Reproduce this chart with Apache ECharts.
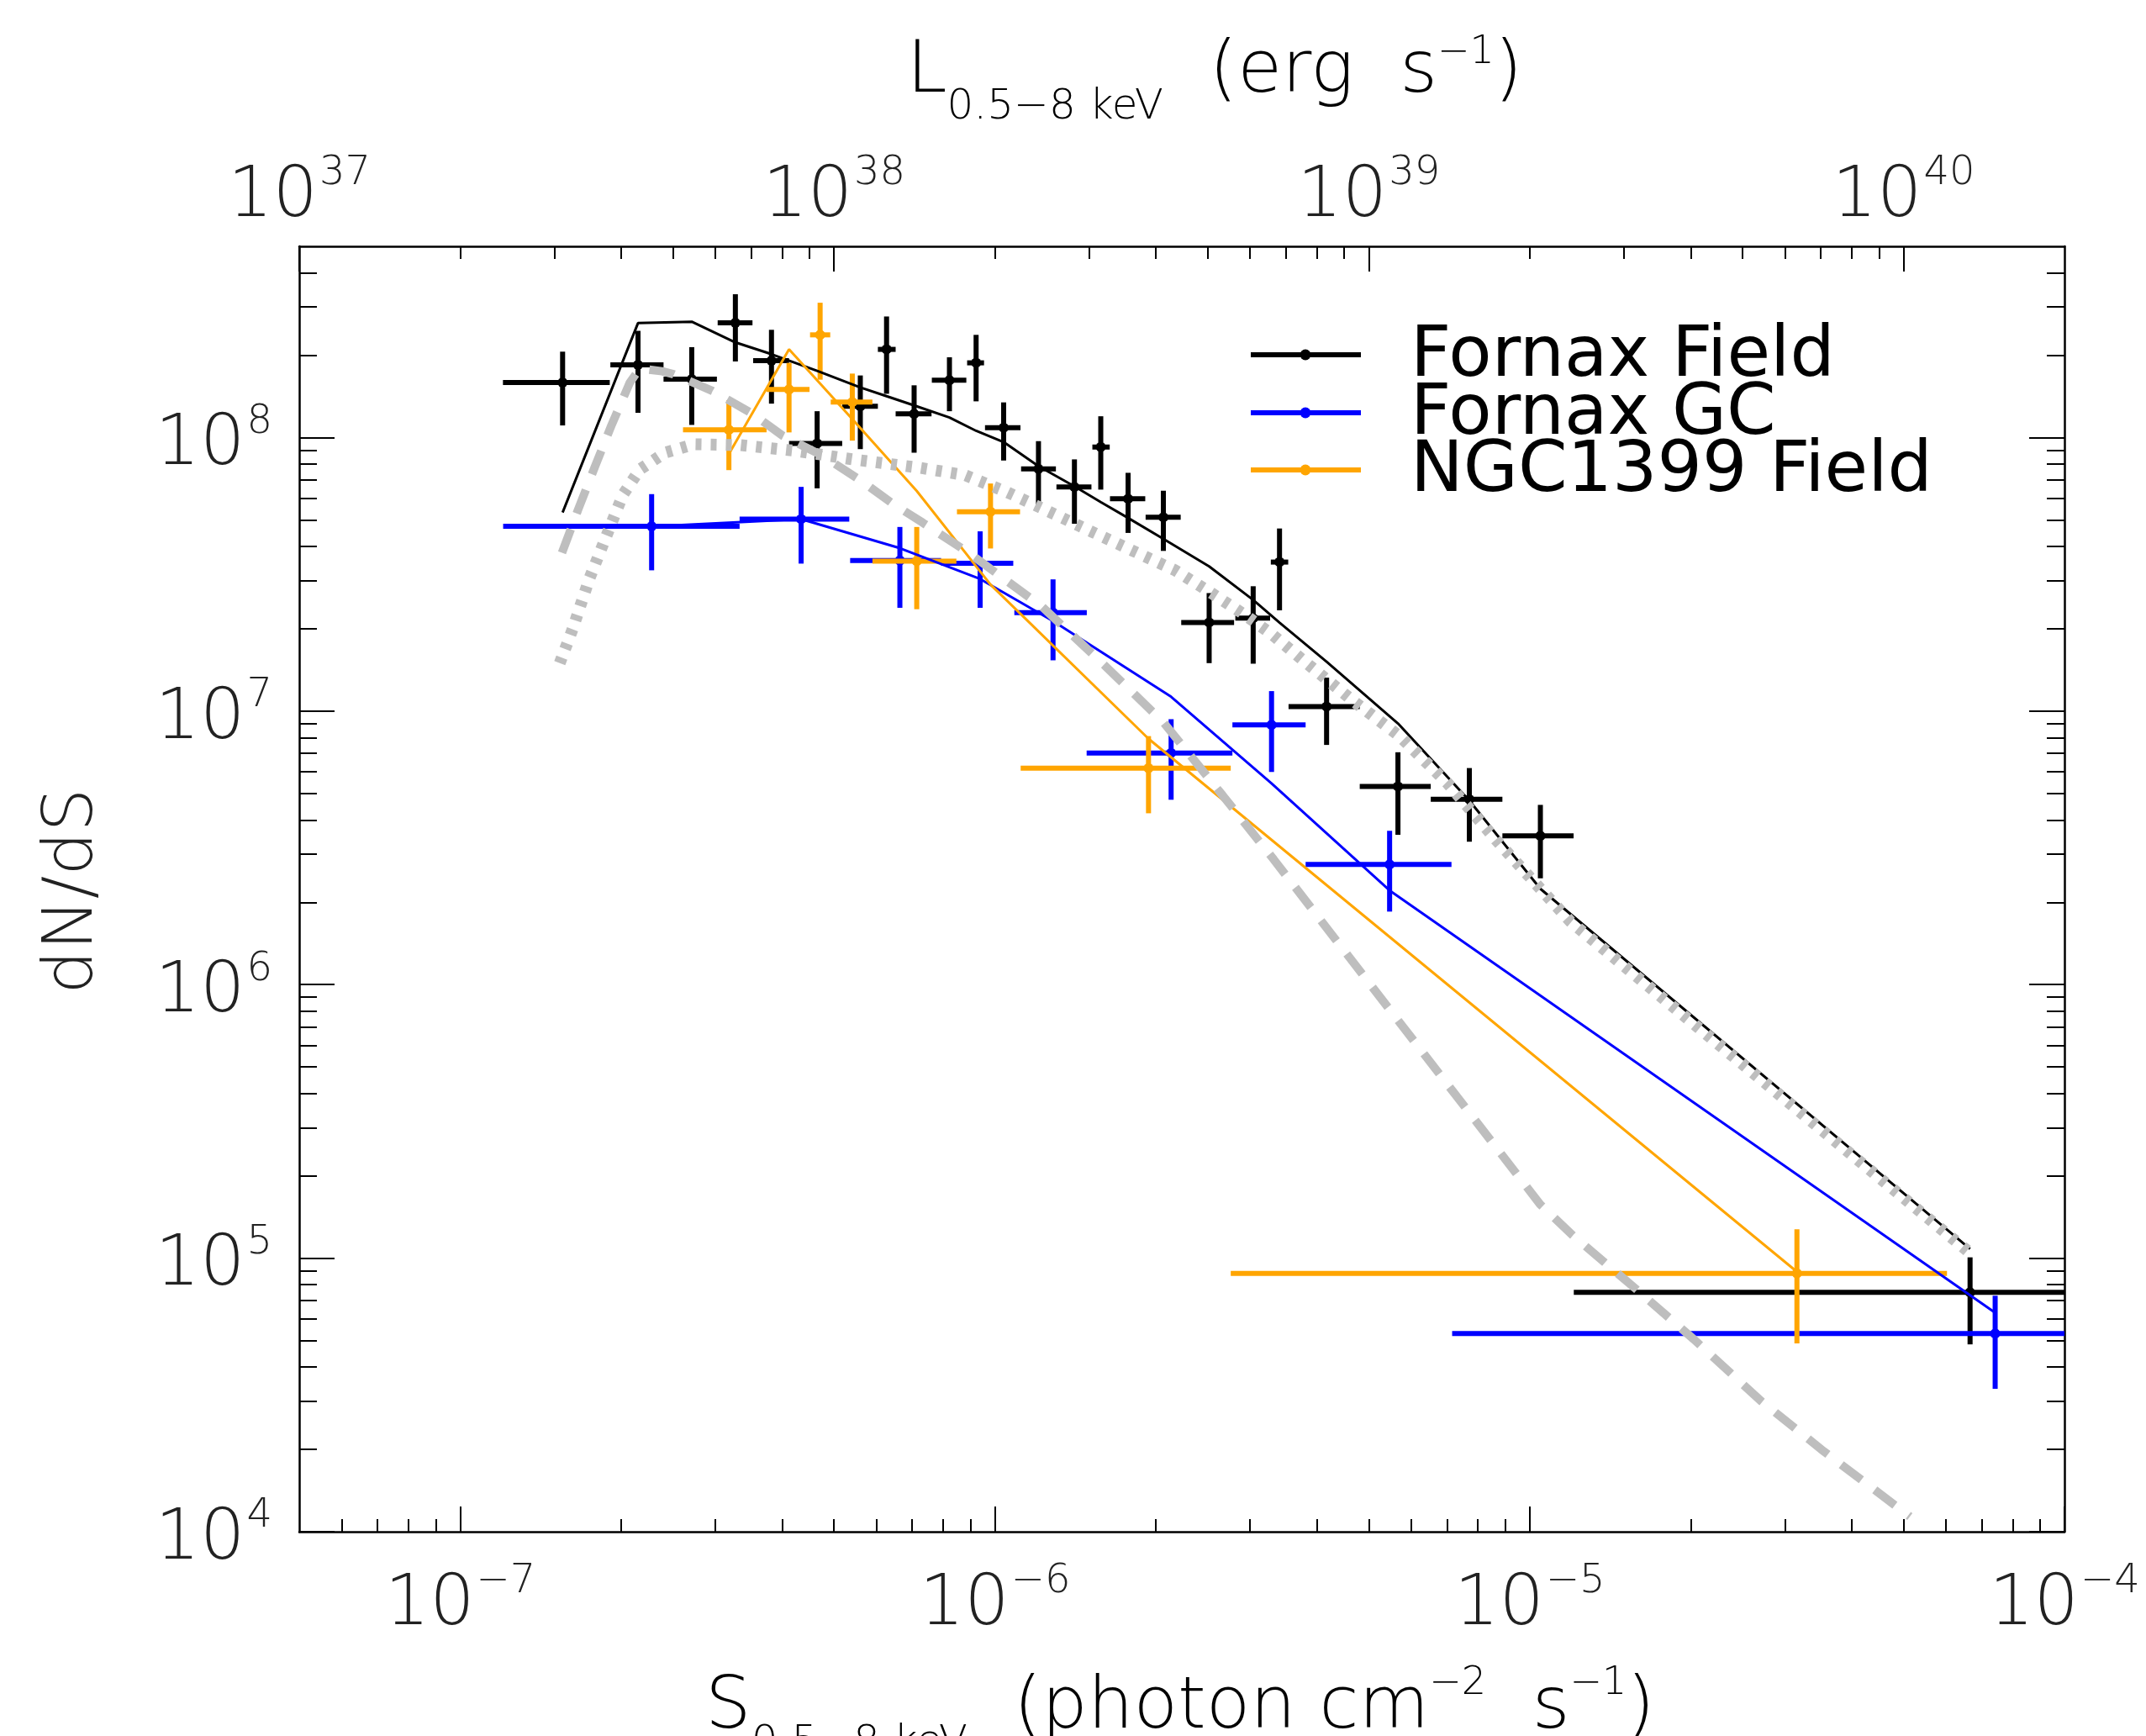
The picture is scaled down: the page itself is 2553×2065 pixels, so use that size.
<!DOCTYPE html>
<html>
<head>
<meta charset="utf-8">
<script src="https://cdn.jsdelivr.net/npm/echarts@6/dist/echarts.min.js"></script>
<style>
  html, body { margin: 0; padding: 0; background: #ffffff; }
  #chart { width: 2553px; height: 2065px; }
</style>
</head>
<body>
<div id="chart"></div>
<script>
// ---------------------------------------------------------------------------
// Differential source counts dN/dS of X-ray point sources in Fornax
// (field sources, globular-cluster sources, NGC 1399 field) with model curves.
// ---------------------------------------------------------------------------

// Fornax Field: flux, flux bin edges, dN/dS, 1-sigma range, model prediction
const fieldS    = [1.554e-7, 2.15e-7, 2.71e-7, 3.27e-7, 3.82e-7, 4.65e-7, 5.60e-7, 6.27e-7, 7.06e-7, 8.22e-7, 9.22e-7, 1.038e-6, 1.206e-6, 1.408e-6, 1.577e-6, 1.774e-6, 2.065e-6, 2.515e-6, 3.04e-6, 3.405e-6, 4.17e-6, 5.67e-6, 7.71e-6, 1.047e-5, 6.66e-5];
const fieldSLo  = [1.202e-7, 1.909e-7, 2.40e-7, 3.03e-7, 3.53e-7, 4.12e-7, 5.18e-7, 6.04e-7, 6.52e-7, 7.62e-7, 8.87e-7, 9.58e-7, 1.119e-6, 1.303e-6, 1.521e-6, 1.641e-6, 1.913e-6, 2.23e-6, 2.815e-6, 3.28e-6, 3.54e-6, 4.81e-6, 6.53e-6, 8.89e-6, 1.209e-5];
const fieldSHi  = [1.904e-7, 2.40e-7, 3.02e-7, 3.52e-7, 4.12e-7, 5.18e-7, 6.04e-7, 6.52e-7, 7.61e-7, 8.84e-7, 9.54e-7, 1.116e-6, 1.30e-6, 1.515e-6, 1.639e-6, 1.91e-6, 2.225e-6, 2.80e-6, 3.27e-6, 3.535e-6, 4.81e-6, 6.53e-6, 8.89e-6, 1.208e-5, 1.2e-4];
const fieldN    = [1.588e8, 1.843e8, 1.634e8, 2.627e8, 1.91e8, 9.52e7, 1.30e8, 2.10e8, 1.22e8, 1.62e8, 1.875e8, 1.087e8, 7.68e7, 6.60e7, 9.23e7, 5.97e7, 5.11e7, 2.109e7, 2.185e7, 3.505e7, 1.038e7, 5.30e6, 4.76e6, 3.50e6, 7.50e4];
const fieldNLo  = [1.107e8, 1.231e8, 1.112e8, 1.897e8, 1.33e8, 6.52e7, 9.07e7, 1.445e8, 8.80e7, 1.248e8, 1.356e8, 8.24e7, 5.62e7, 4.84e7, 6.45e7, 4.48e7, 3.85e7, 1.497e7, 1.49e7, 2.335e7, 7.52e6, 3.53e6, 3.33e6, 2.447e6, 4.84e4];
const fieldNHi  = [2.06e8, 2.455e8, 2.14e8, 3.34e8, 2.476e8, 1.248e8, 1.686e8, 2.77e8, 1.552e8, 1.965e8, 2.373e8, 1.344e8, 9.70e7, 8.32e7, 1.196e8, 7.43e7, 6.39e7, 2.70e7, 2.86e7, 4.65e7, 1.325e7, 7.07e6, 6.19e6, 4.54e6, 1.007e5];
const fieldModel = [5.32e7, 2.62e8, 2.65e8, 2.227e8, 2.017e8, 1.752e8, 1.525e8, 1.416e8, 1.31e8, 1.183e8, 1.058e8, 9.63e7, 7.86e7, 6.63e7, 5.81e7, 5.08e7, 4.26e7, 3.38e7, 2.548e7, 2.106e7, 1.516e7, 9.01e6, 4.71e6, 2.24e6, 1.081e5];

// Fornax GC
const gcS     = [2.28e-7, 4.34e-7, 6.64e-7, 9.38e-7, 1.284e-6, 2.135e-6, 3.29e-6, 5.47e-6, 7.42e-5];
const gcSLo   = [1.203e-7, 3.33e-7, 5.36e-7, 7.93e-7, 1.087e-6, 1.484e-6, 2.78e-6, 3.81e-6, 7.16e-6];
const gcSHi   = [3.33e-7, 5.34e-7, 7.93e-7, 1.082e-6, 1.485e-6, 2.78e-6, 3.81e-6, 7.14e-6, 1.2e-4];
const gcN     = [4.74e7, 5.03e7, 3.55e7, 3.47e7, 2.29e7, 7.03e6, 8.91e6, 2.75e6, 5.30e4];
const gcNLo   = [3.27e7, 3.46e7, 2.385e7, 2.385e7, 1.533e7, 4.74e6, 5.99e6, 1.849e6, 3.33e4];
const gcNHi   = [6.21e7, 6.60e7, 4.71e7, 4.54e7, 3.03e7, 9.34e6, 1.183e7, 3.65e6, 7.29e4];
const gcModel = [4.73e7, 5.03e7, 3.94e7, 3.04e7, 2.134e7, 1.128e7, 5.44e6, 2.21e6, 6.32e4];

// NGC1399 Field
const ngcS     = [3.18e-7, 4.12e-7, 4.71e-7, 5.41e-7, 7.14e-7, 9.81e-7, 1.937e-6, 3.16e-5];
const ngcSLo   = [2.61e-7, 3.74e-7, 4.51e-7, 4.93e-7, 5.90e-7, 8.49e-7, 1.117e-6, 2.76e-6];
const ngcSHi   = [3.74e-7, 4.50e-7, 4.92e-7, 5.90e-7, 8.47e-7, 1.114e-6, 2.76e-6, 6.03e-5];
const ngcN     = [1.068e8, 1.498e8, 2.373e8, 1.347e8, 3.53e7, 5.35e7, 6.18e6, 8.80e4];
const ngcNLo   = [7.60e7, 1.044e8, 1.627e8, 9.74e7, 2.357e7, 3.93e7, 4.23e6, 4.88e4];
const ngcNHi   = [1.369e8, 1.875e8, 3.11e8, 1.713e8, 4.71e7, 6.79e7, 8.10e6, 1.275e5];
const ngcModel = [8.70e7, 2.10e8, 1.576e8, 1.167e8, 6.38e7, 2.90e7, 7.92e6, 8.92e4];

// Reference model curves (grey)
const dashedS = [1.55e-7, 1.66e-7, 1.786e-7, 1.92e-7, 2.076e-7, 2.166e-7, 2.386e-7, 2.504e-7, 2.965e-7, 3.51e-7, 4.01e-7, 4.75e-7, 5.62e-7, 6.42e-7, 7.33e-7, 8.98e-7, 1.227e-6, 1.607e-6, 2.063e-6, 2.663e-6, 3.32e-6, 4.04e-6, 1.046e-5, 1.204e-5, 1.578e-5, 2.025e-5, 2.71e-5, 3.55e-5, 5.14e-5];
const dashedN = [3.79e7, 5.43e7, 7.82e7, 1.114e8, 1.588e8, 1.788e8, 1.747e8, 1.705e8, 1.48e8, 1.225e8, 1.015e8, 8.60e7, 6.95e7, 5.75e7, 4.88e7, 3.76e7, 2.40e7, 1.463e7, 9.12e6, 4.93e6, 2.87e6, 1.747e6, 1.573e5, 1.211e5, 7.73e4, 5.06e4, 3.0e4, 1.965e4, 1.136e4];
const dottedS = [1.535e-7, 1.622e-7, 1.743e-7, 1.874e-7, 2.015e-7, 2.166e-7, 2.415e-7, 2.74e-7, 3.345e-7, 4.26e-7, 5.42e-7, 7.24e-7, 8.78e-7, 1.053e-6, 1.262e-6, 1.512e-6, 1.813e-6, 2.172e-6, 2.54e-6, 2.94e-6, 3.31e-6, 3.77e-6, 4.64e-6, 5.71e-6, 7.03e-6, 8.65e-6, 1.065e-5, 1.19e-5, 6.61e-5];
const dottedN = [1.497e7, 1.99e7, 3.04e7, 4.34e7, 6.18e7, 7.64e7, 8.80e7, 9.45e7, 9.38e7, 8.93e7, 8.32e7, 7.75e7, 7.29e7, 6.32e7, 5.36e7, 4.54e7, 3.85e7, 3.27e7, 2.70e7, 2.24e7, 1.896e7, 1.533e7, 1.102e7, 8.10e6, 5.43e6, 3.38e6, 2.16e6, 1.705e6, 1.058e5];

// Axis ranges and tick exponents
const S_MIN = 5e-8, S_MAX = 1e-4;
const N_MIN = 1e4, N_MAX = 5e8;
const LUM_PER_FLUX = 2e44;             // L(0.5-8 keV) per unit photon flux
const fluxTickExp = [-7, -6, -5, -4];
const countTickExp = [4, 5, 6, 7, 8];
const lumTickExp = [37, 38, 39, 40];

const legendNames  = ['Fornax Field', 'Fornax GC', 'NGC1399 Field'];
const seriesColors = ['#000000', '#0000ff', '#ffa500'];
const GREY = '#bebebe';
const TXT = '#222222';
const FONT = "'DejaVu Sans', 'Liberation Sans', sans-serif";

// ---------------------------------------------------------------------------
const LOG = Math.log10;
const xMin = LOG(S_MIN), xMax = LOG(S_MAX);
const yMin = LOG(N_MIN), yMax = LOG(N_MAX);
const lMin = xMin + LOG(LUM_PER_FLUX), lMax = xMax + LOG(LUM_PER_FLUX);

function majorTicks(lo, hi) {
  const out = [];
  for (let n = Math.ceil(lo - 1e-9); n <= hi + 1e-9; n++) out.push(Math.min(hi, Math.max(lo, n)));
  return out;
}
function minorTicks(lo, hi) {
  const out = [];
  for (let n = Math.floor(lo) - 1; n <= Math.ceil(hi); n++) {
    for (let k = 2; k <= 9; k++) {
      const v = n + LOG(k);
      if (v > lo + 1e-6 && v < hi - 1e-6) out.push(v);
    }
  }
  return out;
}
const clampTo = (lo, hi) => arr => arr.map(v => Math.min(hi, Math.max(lo, v)));

function fmtExp(e) { return e < 0 ? '\u2212' + Math.abs(e) : String(e); }
const powLabel = v => '{b|10}{s|' + fmtExp(Math.round(v)) + '}';
const tickRich = {
  b: { fontSize: 84, fontFamily: FONT, fontWeight: 200, color: TXT, lineHeight: 84, verticalAlign: 'top', padding: [10, 0, 0, 0] },
  s: { fontSize: 48, fontFamily: FONT, fontWeight: 200, color: TXT, lineHeight: 48, verticalAlign: 'top', padding: [0, 0, 0, 2] }
};

function axisPair(position, min, max, majorLen, minorLen, labelExp, labelOpt) {
  const base = { type: 'value', min: min, max: max, position: position, splitLine: { show: false }, axisPointer: { show: false } };
  const major = Object.assign({}, base, {
    axisLine: { show: true, onZero: false, lineStyle: { color: '#000', width: 2.5 } },
    axisTick: { show: true, inside: true, length: majorLen, customValues: majorTicks(min, max), lineStyle: { color: '#000', width: 2 } },
    axisLabel: labelExp
      ? Object.assign({ show: true, customValues: clampTo(min, max)(labelExp), formatter: powLabel, rich: tickRich,
                        showMinLabel: true, showMaxLabel: true }, labelOpt)
      : { show: false }
  });
  const minor = Object.assign({}, base, {
    axisLine: { show: false, onZero: false },
    axisTick: { show: true, inside: true, length: minorLen, customValues: minorTicks(min, max), lineStyle: { color: '#000', width: 2 } },
    axisLabel: { show: false }
  });
  return [major, minor];
}

const xAxes = [].concat(
  axisPair('bottom', xMin, xMax, 30, 15, fluxTickExp, { margin: 36 }),
  axisPair('top', lMin, lMax, 30, 15, lumTickExp, { margin: 26 })
);
const yAxes = [].concat(
  axisPair('left', yMin, yMax, 42, 21, countTickExp, { margin: 32 }),
  axisPair('right', yMin, yMax, 42, 21, null)
);

// error-bar crosses with a dot at the measured value
function errorBars(color) {
  return function (params, api) {
    const cs = params.coordSys;
    const cx = v => Math.max(cs.x, Math.min(cs.x + cs.width, v));
    const cy = v => Math.max(cs.y, Math.min(cs.y + cs.height, v));
    const p = api.coord([api.value(0), api.value(1)]);
    const a = api.coord([api.value(2), api.value(1)]);
    const b = api.coord([api.value(3), api.value(1)]);
    const c = api.coord([api.value(0), api.value(4)]);
    const d = api.coord([api.value(0), api.value(5)]);
    const st = { stroke: color, lineWidth: 6, lineCap: 'butt' };
    return {
      type: 'group',
      children: [
        { type: 'line', shape: { x1: cx(a[0]), y1: p[1], x2: cx(b[0]), y2: p[1] }, style: st },
        { type: 'line', shape: { x1: p[0], y1: cy(c[1]), x2: p[0], y2: cy(d[1]) }, style: st },
        { type: 'circle', shape: { cx: p[0], cy: p[1], r: 6 }, style: { fill: color } }
      ]
    };
  };
}
function errData(S, SLo, SHi, N, NLo, NHi) {
  return S.map((s, i) => [LOG(s), LOG(N[i]), LOG(SLo[i]), LOG(SHi[i]), LOG(NLo[i]), LOG(NHi[i])]);
}
function lineData(S, N) { return S.map((s, i) => [LOG(s), LOG(N[i])]); }

const sets = [
  { name: legendNames[0], color: seriesColors[0], err: errData(fieldS, fieldSLo, fieldSHi, fieldN, fieldNLo, fieldNHi), model: lineData(fieldS, fieldModel) },
  { name: legendNames[1], color: seriesColors[1], err: errData(gcS, gcSLo, gcSHi, gcN, gcNLo, gcNHi), model: lineData(gcS, gcModel) },
  { name: legendNames[2], color: seriesColors[2], err: errData(ngcS, ngcSLo, ngcSHi, ngcN, ngcNLo, ngcNHi), model: lineData(ngcS, ngcModel) }
];

const series = [];
sets.forEach(s => {
  series.push({ type: 'custom', name: s.name + ' data', renderItem: errorBars(s.color), data: s.err, z: 2, silent: true });
});
sets.forEach(s => {
  series.push({ type: 'line', name: s.name, data: s.model, symbol: 'none', z: 3, silent: true,
                lineStyle: { color: s.color, width: 3 } });
});
series.push({ type: 'line', name: 'dashed model', data: lineData(dashedS, dashedN), symbol: 'none', z: 4, silent: true,
              lineStyle: { color: GREY, width: 10, type: [30, 20], cap: 'butt' } });
series.push({ type: 'line', name: 'dotted model', data: lineData(dottedS, dottedN), symbol: 'none', z: 4, silent: true,
              lineStyle: { color: GREY, width: 14, type: [7, 11], cap: 'butt' } });

// axis titles with sub/superscripts
function titleRich(mainPad, subPad) {
  return {
    m:   { fontSize: 86, fontFamily: FONT, fontWeight: 200, color: TXT, lineHeight: 86, verticalAlign: 'top', padding: [mainPad, 0, 0, 0] },
    sub: { fontSize: 50, fontFamily: FONT, fontWeight: 200, color: TXT, lineHeight: 50, verticalAlign: 'top', padding: [subPad, 0, 0, 0] },
    sup: { fontSize: 46, fontFamily: FONT, fontWeight: 200, color: TXT, lineHeight: 46, verticalAlign: 'top', padding: [0, 0, 0, 0] }
  };
}

// legend: line + dot + name
const legendRowY = [422, 491, 559];
const legendChildren = [];
legendNames.forEach((name, i) => {
  const y = legendRowY[i];
  legendChildren.push({ type: 'line', shape: { x1: 1488, y1: y, x2: 1619, y2: y }, style: { stroke: seriesColors[i], lineWidth: 6 } });
  legendChildren.push({ type: 'circle', shape: { cx: 1553, cy: y, r: 6.5 }, style: { fill: seriesColors[i] } });
  legendChildren.push({ type: 'text', x: 1678, y: y + 3,
    style: { text: name, fontSize: 84, fontFamily: FONT, fill: '#000', align: 'left', verticalAlign: 'middle' } });
});

const option = {
  backgroundColor: '#ffffff',
  animation: false,
  grid: { left: 356, right: 97, top: 293, bottom: 243, containLabel: false },
  xAxis: xAxes,
  yAxis: yAxes,
  series: series,
  graphic: [
    { type: 'text', x: 1445, y: 40, silent: true,
      style: { text: '{m|L}{sub|0.5\u22128 keV}{m|  (erg  s}{sup|\u22121}{m|)}', rich: titleRich(4, 63), align: 'center', verticalAlign: 'top' } },
    { type: 'text', x: 1404, y: 1980, silent: true,
      style: { text: '{m|S}{sub|0.5\u22128 keV}{m|  (photon cm}{sup|\u22122}{m|  s}{sup|\u22121}{m|)}', rich: titleRich(10, 69), align: 'center', verticalAlign: 'top' } },
    { type: 'text', x: 88, y: 1060, rotation: Math.PI / 2, silent: true,
      style: { text: 'dN/dS', fontSize: 82, fontFamily: FONT, fontWeight: 200, fill: TXT, align: 'center', verticalAlign: 'middle' } },
    { type: 'group', silent: true, children: legendChildren }
  ]
};

const chart = echarts.init(document.getElementById('chart'), null, { renderer: 'canvas' });
chart.setOption(option);
</script>
</body>
</html>
